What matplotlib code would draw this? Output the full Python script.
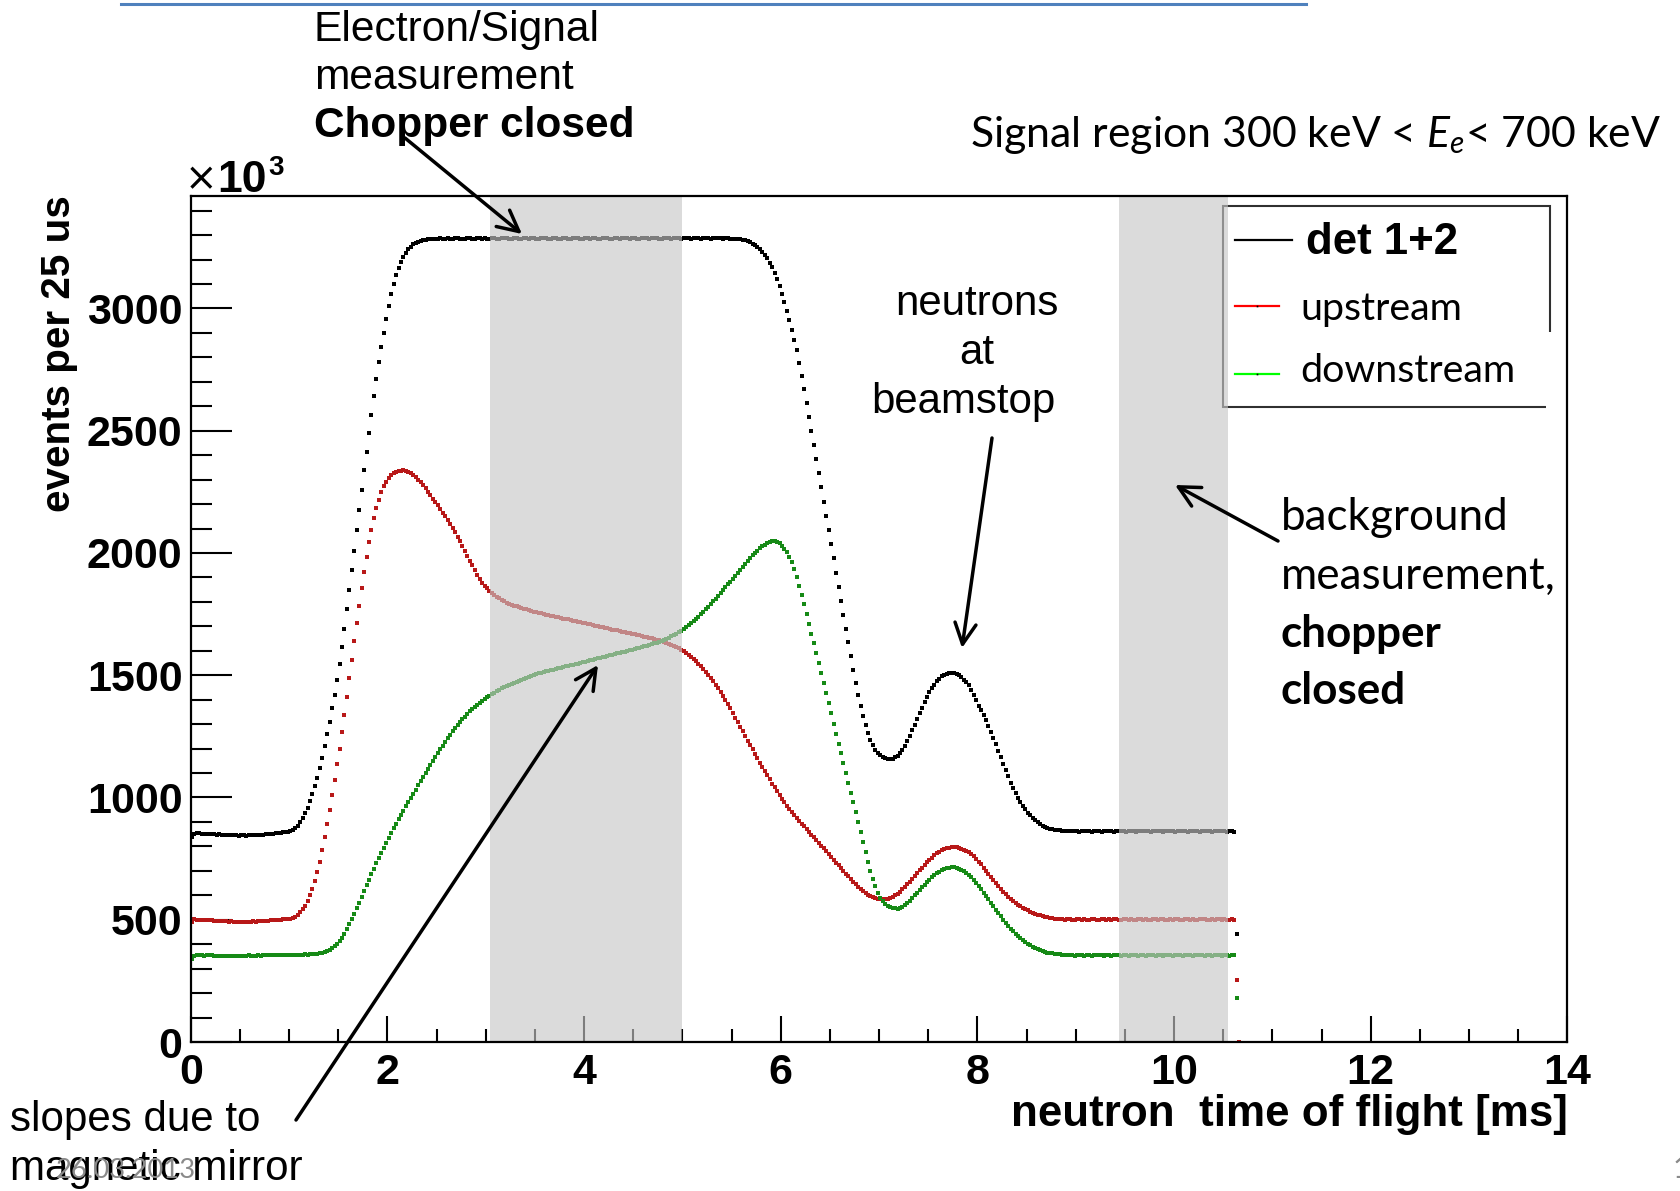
import numpy as np
import matplotlib
matplotlib.use("Agg")
import matplotlib.pyplot as plt
from matplotlib.patches import FancyArrowPatch, Rectangle
from matplotlib.lines import Line2D

plt.rcParams["mathtext.fontset"] = "custom"
plt.rcParams["mathtext.rm"] = "Lato"
plt.rcParams["mathtext.it"] = "Lato:italic"
plt.rcParams["mathtext.bf"] = "Lato:bold"

W, H, DPI = 1681, 1191, 100
HELV = "Liberation Sans"
CALI = "Lato"

# ---------------------------------------------------------------- data
BIN_MS = 0.025  # 25 us bins, first bin starts at 0 ms

det12 = [
    840, 852, 855, 853, 851, 852, 850, 849, 851, 850,
    848, 849, 847, 848, 846, 847, 845, 846, 845, 844,
    845, 846, 844, 845, 846, 845, 847, 846, 848, 847,
    849, 850, 851, 852, 853, 855, 856, 858, 859, 860,
    862, 866, 874, 885, 900, 916, 935, 958, 985, 1013,
    1045, 1080, 1120, 1163, 1210, 1258, 1310, 1364, 1420, 1480,
    1545, 1615, 1690, 1770, 1850, 1930, 2010, 2092, 2175, 2258,
    2340, 2415, 2490, 2565, 2640, 2712, 2780, 2842, 2900, 2957,
    3010, 3058, 3100, 3135, 3165, 3190, 3210, 3228, 3242, 3253,
    3262, 3268, 3273, 3277, 3280, 3282, 3284, 3285, 3284, 3286,
    3285, 3287, 3286, 3284, 3288, 3286, 3285, 3287, 3289, 3286,
    3284, 3286, 3288, 3287, 3285, 3286, 3289, 3287, 3285, 3288,
    3286, 3284, 3287, 3289, 3286, 3285, 3288, 3290, 3287, 3285,
    3286, 3289, 3287, 3284, 3286, 3288, 3287, 3285, 3289, 3288,
    3286, 3284, 3287, 3289, 3288, 3285, 3286, 3290, 3288, 3286,
    3285, 3287, 3289, 3286, 3284, 3288, 3290, 3287, 3285, 3286,
    3289, 3287, 3285, 3288, 3290, 3286, 3284, 3287, 3289, 3288,
    3285, 3286, 3289, 3287, 3285, 3288, 3290, 3287, 3286, 3288,
    3289, 3286, 3285, 3288, 3290, 3287, 3285, 3287, 3289, 3288,
    3286, 3285, 3288, 3290, 3287, 3286, 3288, 3289, 3287, 3286,
    3288, 3290, 3287, 3285, 3287, 3289, 3288, 3286, 3287, 3289,
    3288, 3286, 3287, 3288, 3289, 3287, 3286, 3288, 3287, 3286,
    3285, 3286, 3285, 3284,
    3282, 3279, 3275, 3270, 3265, 3259, 3252, 3243, 3232, 3220,
    3205, 3188, 3168, 3145, 3120, 3092, 3060, 3026, 2990, 2951,
    2910, 2871, 2830, 2778, 2725, 2670, 2615, 2558, 2500, 2442,
    2385, 2328, 2270, 2210, 2150, 2092, 2035, 1978, 1920, 1862,
    1805, 1748, 1690, 1634, 1578, 1522, 1470, 1420, 1375, 1333,
    1295, 1262, 1235, 1213, 1195, 1182, 1172, 1165, 1160, 1157,
    1157, 1159, 1164, 1171, 1182, 1195, 1212, 1231, 1252, 1275,
    1298, 1321, 1344, 1367, 1390, 1411, 1430, 1447, 1462, 1475,
    1486, 1495, 1501, 1505, 1508, 1509, 1509, 1507, 1500, 1492,
    1482, 1471, 1460, 1441, 1420, 1397, 1373, 1356, 1337, 1315,
    1292, 1268, 1243, 1218, 1192, 1165, 1138, 1112, 1086, 1061,
    1038, 1017, 998, 980, 965, 951, 938, 927, 917, 907,
    898, 891, 885, 880, 876, 873, 871, 869, 868, 866,
    865, 864, 863,
    862, 861, 863, 862, 860, 861, 863, 862, 861, 860,
    862, 863, 861, 860, 862, 864, 862, 861, 860, 862,
    863, 861, 862, 860, 861, 863, 862, 860, 861, 862,
    864, 862, 861, 860, 862, 863, 861, 862, 860, 861,
    863, 862, 861, 860, 862, 863, 862, 861, 860, 862,
    861, 863, 862, 860, 861, 862, 863, 861, 860, 862,
    861, 863, 862, 861, 860, 862, 861, 860,
    440,
]

upstream = [
    490, 502, 501, 500, 499, 500, 498, 497, 498, 496,
    495, 496, 494, 493, 494, 492, 493, 491, 492, 491,
    490, 491, 492, 491, 492, 493, 492, 494, 493, 495,
    496, 495, 497, 498, 499, 500, 501, 502, 503, 504,
    505, 508, 513, 520, 530, 543, 558, 577, 600, 627,
    658, 695, 737, 785, 838, 893, 950, 1010, 1072, 1135,
    1200, 1268, 1338, 1412, 1488, 1563, 1638, 1712, 1785, 1855,
    1922, 1985, 2043, 2095, 2142, 2183, 2218, 2248, 2272, 2292,
    2307, 2318, 2326, 2331, 2335, 2337, 2338, 2336, 2332, 2326,
    2318, 2310, 2300, 2289, 2277, 2264, 2250, 2236, 2221, 2208,
    2195, 2180, 2165, 2150, 2135, 2119, 2102, 2085, 2067, 2048,
    2029, 2009, 1989, 1969, 1949, 1930, 1911, 1894, 1879, 1866,
    1855, 1845, 1836, 1828, 1821, 1814, 1808, 1802, 1797,
    1793, 1789, 1785, 1782, 1778, 1775, 1772, 1769, 1766, 1763,
    1760, 1757, 1755, 1753, 1750, 1748, 1746, 1744, 1741, 1739,
    1737, 1735, 1732, 1730, 1728, 1726, 1723, 1721, 1719, 1717,
    1714, 1712, 1710, 1708, 1705, 1703, 1701, 1699, 1696, 1694,
    1692, 1690, 1687, 1685, 1683, 1681, 1678, 1676, 1674, 1672,
    1669,
    1667, 1665, 1663, 1661, 1658, 1656, 1653, 1651, 1648, 1645,
    1643, 1640, 1637, 1633, 1629, 1625, 1620, 1615, 1610, 1604,
    1598, 1591, 1584, 1576, 1567, 1558, 1548, 1537, 1526, 1514,
    1502, 1489, 1476, 1462, 1447, 1432, 1416, 1399, 1382, 1364,
    1346, 1327, 1308, 1289, 1270, 1252, 1233, 1215, 1197, 1179,
    1161, 1143, 1126, 1108, 1091, 1074, 1057, 1041, 1025, 1010,
    995, 981, 967, 954, 941, 929, 917, 905, 893, 882,
    870, 859, 848, 837, 826, 815, 803, 792, 780, 768,
    757, 745, 733, 722, 710, 699, 688, 677, 666, 655,
    645, 635, 626, 617, 609, 602, 596, 591, 587, 585,
    583, 583, 584, 586, 589, 594, 600, 607, 615, 624,
    634, 645, 656, 667, 679, 690, 702, 713, 724, 735,
    745, 754, 763, 771, 778, 784, 789, 793, 795, 797,
    797, 796, 794, 791, 787, 782, 776, 768, 759, 749,
    738, 726, 713, 700, 687, 674, 661, 649, 637, 626,
    615, 605, 595, 586, 577, 569, 562, 555, 549, 543,
    538, 533, 529, 525, 521, 518, 515, 512, 510, 508,
    506, 505, 504,
    503, 502, 501, 503, 502, 500, 501, 502, 503, 501,
    502, 500, 501, 503, 502, 501, 500, 502, 503, 501,
    502, 501, 503, 502, 500, 501, 502, 503, 501, 502,
    500, 501, 503, 502, 501, 502, 500, 501, 503, 502,
    501, 502, 503, 501, 500, 502, 501, 503, 502, 501,
    500, 502, 503, 501, 502, 501, 500, 502, 503, 502,
    501, 500, 502, 501, 503, 502, 501, 502, 500, 501,
    502, 501,
    254, 0,
]

downstream = [
    340, 352, 354, 355, 354, 353, 354, 355, 354, 353,
    352, 353, 352, 351, 352, 353, 352, 351, 352, 352,
    353, 352, 353, 354, 353, 352, 353, 354, 353, 354,
    355, 354, 355, 354, 355, 356, 355, 354, 355, 356,
    356, 355, 356, 357, 356, 357, 358, 357, 358, 359,
    360, 361, 362, 364, 367, 371, 376, 383, 391, 401,
    413, 427, 443, 461, 481, 502, 524, 547, 570, 594,
    618, 641, 664, 687, 709, 731, 753, 774, 795, 815,
    835, 855, 874, 893, 911, 929, 946, 964, 981, 998,
    1015, 1032, 1050, 1067, 1084, 1101, 1118, 1134, 1150, 1166,
    1182, 1197, 1212, 1227, 1242, 1256, 1270, 1283, 1296, 1308,
    1320, 1331, 1342, 1352, 1362, 1371, 1380, 1388, 1396, 1403,
    1410, 1416, 1422, 1428, 1434, 1440, 1446, 1451, 1456, 1461,
    1466, 1470, 1474, 1478, 1482, 1486, 1490, 1494, 1498, 1502,
    1506,
    1508, 1511, 1513, 1516, 1518, 1521, 1523, 1526, 1528, 1531,
    1533, 1536, 1538, 1541, 1543, 1546, 1548, 1551, 1554, 1556,
    1559, 1561, 1564, 1566, 1569, 1571, 1574, 1576, 1579, 1581,
    1584, 1586, 1589, 1591, 1594, 1597, 1599, 1602, 1604,
    1607, 1610, 1612, 1615, 1618, 1621, 1624, 1627, 1630, 1633,
    1637, 1641, 1645, 1649, 1654, 1659, 1664, 1670, 1676, 1682,
    1689, 1697, 1705, 1713, 1722, 1731, 1740, 1750, 1760, 1770,
    1781, 1791, 1802, 1813, 1824, 1836, 1848, 1860, 1872, 1883,
    1895, 1907, 1920, 1932, 1944, 1956, 1968, 1979, 1990, 2000,
    2010, 2019, 2027, 2034, 2040, 2044, 2047, 2048, 2046, 2040,
    2030, 2018, 2003, 1985, 1963, 1934, 1900, 1866, 1830, 1790,
    1750, 1710, 1670, 1630, 1590, 1550, 1510, 1468, 1426, 1385,
    1345, 1302, 1260, 1220, 1180, 1140, 1100, 1060, 1020, 980,
    940, 900, 860, 818, 777, 737, 700, 666, 636, 610,
    590, 575, 565, 558, 553, 549, 546, 545, 547, 552,
    559, 568, 578, 589, 600, 611, 622, 633, 644, 654,
    664, 673, 682, 690, 697, 703, 708, 711, 713, 714,
    714, 712, 709, 705, 699, 692, 684, 674, 663, 651,
    639, 625, 611, 597, 583, 569, 555, 541, 527, 514,
    501, 488, 476, 464, 453, 443, 433, 424, 416, 408,
    401, 395, 389, 384, 379, 375, 371, 368, 366, 364,
    362, 360, 359, 358, 357, 356, 355,
    354, 355, 353, 354, 356, 354, 353, 355, 354, 353,
    355, 354, 356, 354, 353, 354, 355, 353, 354, 356,
    354, 353, 355, 354, 353, 354, 356, 355, 353, 354,
    355, 353, 354, 356, 354, 353, 355, 354, 353, 354,
    356, 354, 353, 355, 354, 356, 353, 354, 355, 354,
    353, 355, 354, 356, 354, 353, 354, 355, 353, 354,
    356, 354, 353, 355, 354, 353, 354, 355,
    178,
]

x_major = [0, 2, 4, 6, 8, 10, 12, 14]
y_major = [0, 500, 1000, 1500, 2000, 2500, 3000]
signal_window = (3.04, 5.00)       # ms, chopper-closed electron window
background_window = (9.44, 10.55)  # ms, background window

# ---------------------------------------------------------------- figure
fig = plt.figure(figsize=(W / DPI, H / DPI), dpi=DPI)
fig.patch.set_facecolor("white")


def fx(px):
    return px / W


def fy(py):
    return 1 - py / H


ax = fig.add_axes([fx(190.8), fy(1042), (1567.4 - 190.8) / W, (1042 - 196) / H])
ax.set_xlim(0, 14)
ax.set_ylim(0, 3460)

series = [(det12, "#000000"), (upstream, "#b81818"), (downstream, "#168a16")]
for vals, col in series:
    t = (np.arange(len(vals)) + 0.5) * BIN_MS
    ax.plot(t, vals, ls="none", marker="s", ms=2.3, mew=0, color=col, zorder=2)

for a, b in (signal_window, background_window):
    ax.axvspan(a, b, facecolor=(0.78, 0.78, 0.78), alpha=0.63, lw=0, zorder=3)

for sp in ax.spines.values():
    sp.set_linewidth(1.6)
    sp.set_zorder(5)

ax.set_xticks(x_major)
ax.set_xticks(np.arange(0, 14.01, 0.5), minor=True)
ax.set_yticks(y_major)
ax.set_yticks(np.arange(0, 3401, 100), minor=True)
ax.set_xticklabels([str(v) for v in x_major], family=HELV, weight="bold", fontsize=31)
ax.set_yticklabels([str(v) for v in y_major], family=HELV, weight="bold", fontsize=31)
ax.tick_params(which="both", direction="in", top=False, right=False, width=1.5)
ax.tick_params(axis="x", which="major", length=18.7, pad=8.0)
ax.tick_params(axis="x", which="minor", length=9.4)
ax.tick_params(axis="y", which="major", length=29.5, pad=6.0)
ax.tick_params(axis="y", which="minor", length=15)

# legend frame (sits under the background band)
ax.add_patch(Rectangle((fx(1223), fy(407)), (1550 - 1223) / W, (407 - 206) / H,
                       transform=fig.transFigure, fill=False, ec="#303030",
                       lw=1.5, zorder=2.8))
ax.add_patch(Rectangle((fx(1546), fy(412)), 16 / W, 80 / H,
                       transform=fig.transFigure, fc="white", ec="none", zorder=2.9))

renderer = fig.canvas.get_renderer()


def fit(txt, width_px):
    w = txt.get_window_extent(renderer=renderer).width
    txt.set_fontsize(txt.get_fontsize() * width_px / w)
    return txt.get_fontsize()


def label(x, y, s, width=None, size=30, **kw):
    t = fig.text(fx(x), fy(y), s, va="baseline", zorder=10, **kw)
    t.set_fontsize(size)
    if width is not None:
        fit(t, width)
    return t


# legend entries
for (x0, x1, y), col in [((1235, 1292, 240), "black"),
                         ((1235, 1279, 306), "#ff0000"),
                         ((1235, 1279, 374), "#00ff00")]:
    fig.add_artist(Line2D([fx(x0), fx(x1)], [fy(y), fy(y)], color=col, lw=1.6,
                          transform=fig.transFigure, zorder=10))
    if col != "black":
        fig.add_artist(Line2D([fx(1257)], [fy(y)], marker="s", ms=1.2, mew=0,
                              color="black", transform=fig.transFigure, zorder=11))
label(1306, 254, "det 1+2", width=152, family=HELV, weight="bold")
t_up = label(1300, 320, "upstream", width=162, family=CALI)
label(1300, 382, "downstream", size=t_up.get_fontsize(), family=CALI)

# axis titles
label(1567.4, 1126, "neutron  time of flight [ms]", width=557, family=HELV,
      weight="bold", ha="right")
ylab = fig.text(fx(59), fy(354), "events per 25 us", rotation=90, ha="center",
                va="center", family=HELV, weight="bold", fontsize=29, zorder=10)
fit_h = ylab.get_window_extent(renderer=renderer).height
ylab.set_fontsize(29 * 316 / fit_h)

# x10^3 multiplier
label(185, 190, "\u00d7", size=28, family="DejaVu Sans")
label(217, 192, "10", size=32, family=HELV, weight="bold")
label(268, 175, "3", size=20, family=HELV, weight="bold")

# annotations
s1 = label(314, 41, "Electron/Signal", width=285, family=HELV)
label(314, 89, "measurement", size=s1.get_fontsize(), family=HELV)
label(314, 137, "Chopper closed", width=320, family=HELV, weight="bold")

label(970, 147, "Signal region 300 keV < $E_e$< 700 keV", width=690, family=CALI)

sn = label(977, 315, "neutrons", width=163, family=HELV, ha="center")
label(977, 364, "at", size=sn.get_fontsize(), family=HELV, ha="center")
label(963, 413, "beamstop", size=sn.get_fontsize(), family=HELV, ha="center")

sb = label(1281, 530, "background", width=227, family=CALI)
label(1281, 589, "measurement,", size=sb.get_fontsize(), family=CALI)
label(1281, 647, "chopper", size=sb.get_fontsize(), family=CALI, weight="bold")
label(1281, 704, "closed", size=sb.get_fontsize(), family=CALI, weight="bold")

ss = label(10, 1131, "slopes due to", width=250, family=HELV)
label(10, 1180, "magnetic mirror", size=ss.get_fontsize(), family=HELV)

label(56, 1178, "26.03.2013", width=140, family=CALI, color="#8a8a8a")
label(1673, 1178, "1", size=22, family=CALI, color="#8a8a8a")

# arrows
for (x0, y0), (x1, y1) in [((405, 138), (522, 234)),
                           ((992, 438), (962, 648)),
                           ((1278, 541), (1175, 485)),
                           ((296, 1120), (598, 665))]:
    fig.add_artist(FancyArrowPatch((fx(x0), fy(y0)), (fx(x1), fy(y1)),
                                   transform=fig.transFigure,
                                   arrowstyle="->,head_length=0.75,head_width=0.38",
                                   mutation_scale=20, lw=2.5, color="black",
                                   shrinkA=0, shrinkB=0, zorder=12))

# slide header rule
fig.add_artist(Line2D([fx(121), fx(1306)], [fy(3.5), fy(3.5)], color="#4f81bd",
                      lw=2.2, transform=fig.transFigure, zorder=10))

fig.savefig("out.png", dpi=DPI)
